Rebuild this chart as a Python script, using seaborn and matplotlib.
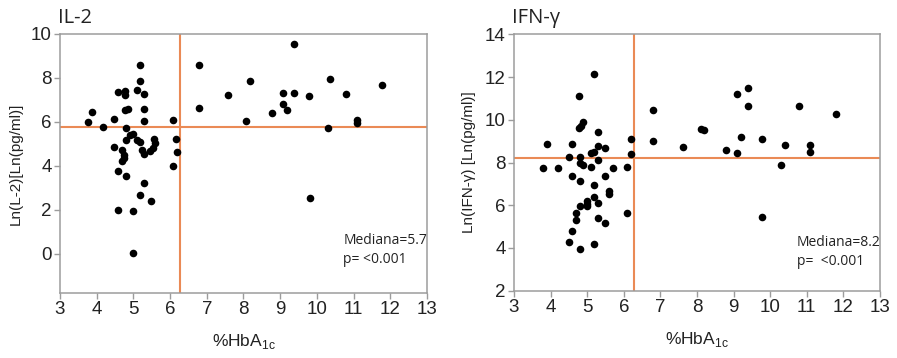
import numpy as np
import pandas as pd
import seaborn as sns
import matplotlib.pyplot as plt

# IL-2 panel data (%HbA1c vs Ln(IL-2))
il2_x = [3.77, 3.88, 4.18, 4.48, 4.59, 4.77, 4.77, 5.09, 5.18, 5.18, 5.28, 4.77, 4.86, 5.29, 5.29,
         6.08, 4.79, 4.81, 4.90, 4.99, 5.11, 5.18, 5.24, 5.29, 5.56, 5.58, 5.54, 5.45, 4.48, 4.68,
         4.75, 4.75, 4.69, 6.17, 6.20, 6.08, 4.59, 4.80, 5.28, 5.18, 5.49, 4.59, 4.98, 4.98,
         6.79, 6.79, 7.58, 8.08, 8.19, 8.78, 9.08, 9.18, 9.08, 9.37, 9.37, 9.79, 10.29, 10.37,
         10.78, 11.09, 11.09, 11.78, 9.80]
il2_y = [6.00, 6.45, 5.76, 6.15, 7.35, 7.39, 7.24, 7.47, 8.57, 7.88, 7.29, 6.53, 6.60, 6.57, 6.05,
         6.10, 5.73, 5.20, 5.39, 5.45, 5.20, 5.09, 4.74, 4.55, 5.23, 5.05, 4.82, 4.66, 4.86, 4.74,
         4.51, 4.36, 4.21, 5.23, 4.64, 3.98, 3.75, 3.56, 3.20, 2.66, 2.39, 2.01, 1.94, 0.05,
         8.61, 6.62, 7.23, 6.05, 7.85, 6.41, 6.83, 6.53, 7.33, 9.53, 7.30, 7.20, 5.71, 7.95,
         7.29, 6.10, 5.95, 7.67, 2.55]

# IFN-gamma panel data
ifn_x = [3.80, 3.89, 4.21, 4.49, 4.51, 4.58, 4.59, 4.58, 4.69, 4.69, 4.78, 4.78, 4.82, 4.89,
         4.80, 4.80, 4.89, 4.80, 4.80, 4.80, 5.00, 5.00, 5.00, 5.10, 5.10, 5.19, 5.19, 5.19,
         5.19, 5.19, 5.30, 5.30, 5.30, 5.30, 5.30, 5.50, 5.50, 5.50, 5.60, 5.60, 5.71, 6.09,
         6.19, 6.19, 6.09,
         6.80, 6.80, 7.61, 8.10, 8.20, 8.79, 9.10, 9.10, 9.19, 9.40, 9.40, 9.79, 10.29, 10.40,
         10.80, 11.09, 11.09, 11.80, 9.79]
ifn_y = [7.76, 8.87, 7.74, 4.28, 8.28, 8.87, 7.39, 4.81, 5.62, 5.31, 11.13, 9.62, 9.72, 9.88,
         8.25, 7.97, 7.87, 7.13, 5.95, 3.95, 6.22, 6.08, 5.95, 7.78, 8.44, 8.47, 12.16, 6.94,
         6.38, 4.20, 9.41, 8.79, 8.13, 6.10, 5.42, 8.70, 7.39, 5.15, 6.69, 6.53, 7.74, 7.79,
         9.09, 8.42, 5.62,
         10.46, 8.99, 8.74, 9.58, 9.52, 8.57, 11.19, 8.46, 9.19, 11.49, 10.66, 9.09, 7.87, 8.82,
         10.63, 8.80, 8.51, 10.27, 5.43]

hba1c_cut = 6.27
il2_median = 5.78
ifn_median = 8.2

sns.set_style("white")
plt.rcParams['font.family'] = ['Liberation Sans', 'DejaVu Sans']

line_col = "#ea8a55"
spine_col = "#9c9c9c"

fig = plt.figure(figsize=(8.97, 3.58), dpi=100)
ax1 = fig.add_axes([0.0669, 0.1816, 0.4091, 0.7235])
ax2 = fig.add_axes([0.573, 0.188, 0.408, 0.716])

panels = [
    (ax1, il2_x, il2_y, il2_median, "IL-2", "Ln(L-2)[Ln(pg/ml)]", (-1.78, 10), np.arange(0, 11, 2),
     "Mediana=5.7\np= <0.001", 0.95),
    (ax2, ifn_x, ifn_y, ifn_median, "IFN-γ", "Ln(IFN-γ) [Ln(pg/ml)]", (2, 14), np.arange(2, 15, 2),
     "Mediana=8.2\np=  <0.001", 4.6),
]

for ax, xs, ys, med, title, ylab, ylim, yticks, note, note_y in panels:
    df = pd.DataFrame({"hba1c": xs, "val": ys})
    ax.axhline(med, color=line_col, lw=1.5, zorder=1)
    ax.axvline(hba1c_cut, color=line_col, lw=1.5, zorder=1)
    sns.scatterplot(data=df, x="hba1c", y="val", ax=ax, color="black", s=30,
                    edgecolor="black", linewidth=0, zorder=3)
    ax.set_xlim(3, 13)
    ax.set_ylim(*ylim)
    ax.set_xticks(np.arange(3, 14, 1))
    ax.set_yticks(yticks)
    for sp in ax.spines.values():
        sp.set_visible(True)
        sp.set_color(spine_col)
        sp.set_linewidth(1.1)
    ax.tick_params(axis="both", direction="out", length=4, width=1, color=spine_col,
                   bottom=True, left=True, labelsize=13.5, labelcolor="#222222", pad=2)
    ax.set_xlabel("%HbA$_{\\mathregular{1c}}$", fontsize=12.5, color="#222222", labelpad=10)
    ax.set_ylabel(ylab, fontsize=11, color="#222222", labelpad=6)
    ax.set_title(title, loc="left", fontsize=14.5, family=["Open Sans", "DejaVu Sans"],
                 color="#222222", pad=8, x=-0.005)
    ax.text(10.72, note_y, note, fontsize=10, family=["Open Sans", "DejaVu Sans"],
            color="#222222", va="top", ha="left", linespacing=1.35)

fig.savefig("out.png", dpi=100)
